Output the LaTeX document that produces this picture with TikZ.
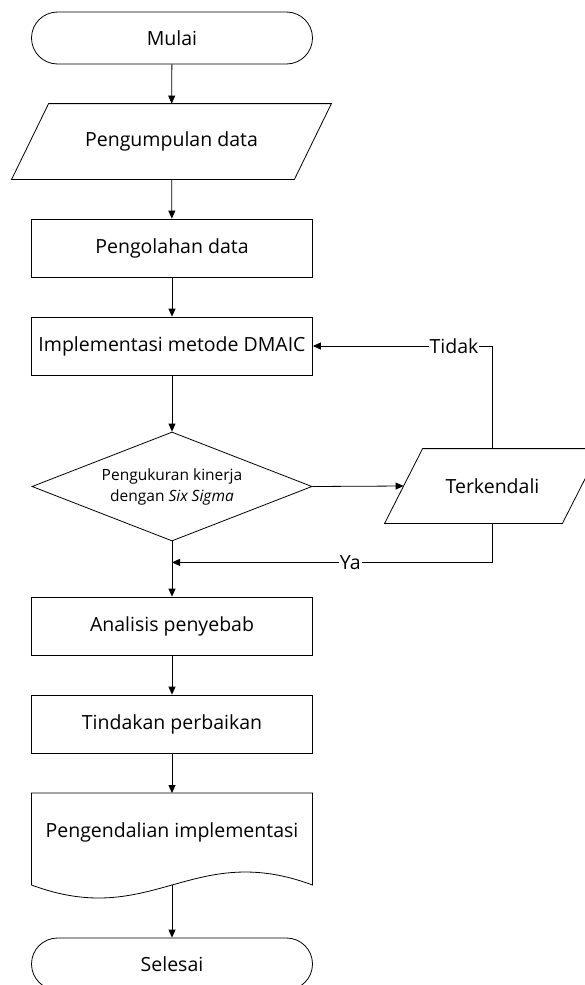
\documentclass[tikz,border=0pt]{standalone}
\usepackage{fontspec}
\setmainfont{Open Sans}
\usepackage{tikz}
\usetikzlibrary{positioning}
\usetikzlibrary{shapes.geometric}
\usetikzlibrary{arrows.meta}

% parallelogram outline round a plain node: node, slant
\newcommand{\bentukdata}[2]{%
  \draw ([xshift=#2]#1.north west) -- (#1.north east)
    -- ([xshift=-#2]#1.south east) -- (#1.south west) -- cycle;}

\begin{document}
\begin{tikzpicture}[x=1pt,y=-1pt,line width=0.8pt,
  every node/.style={font=\fontsize{19.5}{23}\selectfont},
  terminal/.style={draw,rectangle,rounded corners=26pt,minimum width=281pt,minimum height=52pt},
  proses/.style={draw,rectangle,minimum width=281pt,minimum height=58pt},
  keputusan/.style={draw,diamond,aspect=2.57,minimum width=280pt,minimum height=109pt,
    inner sep=0pt,align=center,font=\fontsize{15.5}{21}\selectfont},
  label/.style={fill=white,inner sep=1pt},
  arr/.style={-{Triangle[length=8pt,width=7pt]}}]
  \useasboundingbox (0,0) rectangle (584,985);

  % Main column
  \node[terminal] (mulai) at (172,38) {Mulai};
  \node[minimum width=319pt,minimum height=75pt] (kumpul) at (171.5,141.5) {Pengumpulan data};
  \node[proses] (olah) at (172,248) {Pengolahan data};
  \node[proses] (dmaic) at (172,346) {Implementasi metode DMAIC};
  \node[keputusan] (ukur) at (172,486.5) {Pengukuran kinerja\\dengan \textit{Six Sigma}};
  \node[proses] (analisis) at (172,626) {Analisis penyebab};
  \node[proses] (tindakan) at (172,724) {Tindakan perbaikan};
  \node[minimum width=281pt] (kendali2) at (172,832) {Pengendalian implementasi};
  \node[terminal] (selesai) at (172,964) {Selesai};

  % Side branch
  \node[minimum width=215pt,minimum height=74pt] (kendali) at (492.5,486) {Terkendali};
  \coordinate (gabung) at ([yshift=-21pt]ukur.south);

  % Outlines
  \bentukdata{kumpul}{37pt}
  \bentukdata{kendali}{38pt}
  \draw ([xshift=-140.5pt,yshift=-53pt]kendali2.center) -- ([xshift=-140.5pt,yshift=39pt]kendali2.center)
    -- ([xshift=140.5pt,yshift=39pt]kendali2.center) -- ([xshift=140.5pt,yshift=-53pt]kendali2.center)
    .. controls ([xshift=20pt,yshift=-8pt]kendali2.center) and ([xshift=-20pt,yshift=-98pt]kendali2.center)
    .. ([xshift=-140.5pt,yshift=-53pt]kendali2.center);

  % Flow
  \draw[arr] (mulai) -- (kumpul);
  \draw[arr] (kumpul) -- (olah);
  \draw[arr] (olah) -- (dmaic);
  \draw[arr] (dmaic) -- (ukur);
  \draw[arr] (ukur.east) -- ([xshift=19pt]kendali.west);
  \draw[arr] (kendali.north) |- node[label,pos=0.607] {Tidak} (dmaic.east);
  \draw[arr] (kendali.south) |- node[label,pos=0.722] {Ya} (gabung);
  \draw[arr] (ukur) -- (analisis);
  \draw[arr] (analisis) -- (tindakan);
  \draw[arr] (tindakan) -- ([yshift=39pt]kendali2.center);
  \draw[arr] ([yshift=-53pt]kendali2.center) -- (selesai);
\end{tikzpicture}
\end{document}
